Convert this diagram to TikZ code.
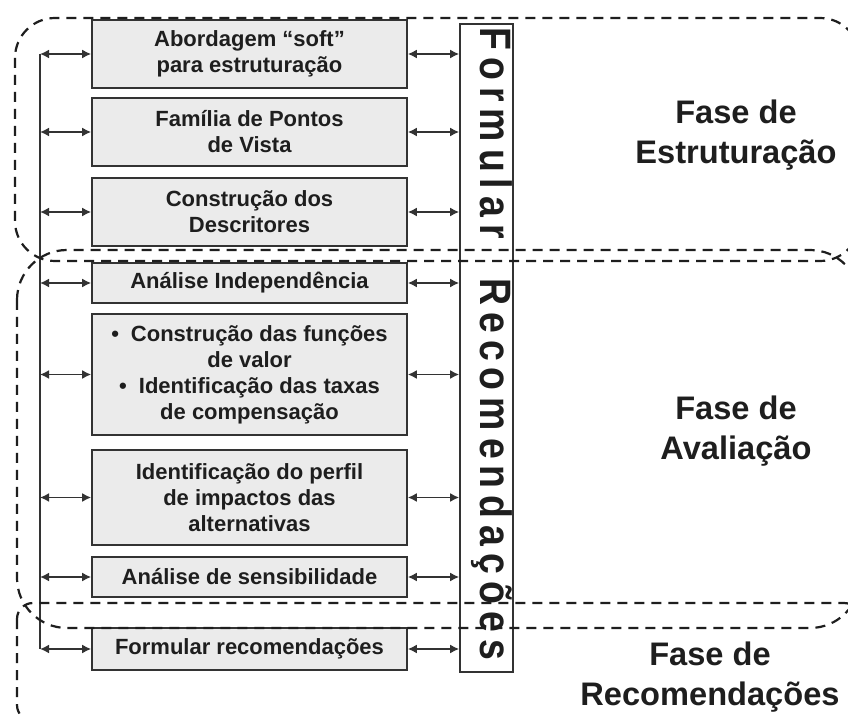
\documentclass[tikz,border=0pt]{standalone}
\usepackage{fontspec}
\setmainfont{Liberation Sans}
\newfontfamily\vfont[FakeStretch=0.85,LetterSpace=16]{Liberation Sans}
\usetikzlibrary{arrows.meta}
\definecolor{boxfill}{HTML}{EBEBEB}
\definecolor{ink}{HTML}{1E1E1E}
\definecolor{edge}{HTML}{333333}
\begin{document}
\begin{tikzpicture}[x=0.5pt,y=-0.5pt,
  stepbox/.style={draw=edge, line width=0.8pt, fill=boxfill, minimum width=157.5pt, inner sep=0pt, align=center, font=\fontsize{11}{13}\selectfont\bfseries, text=ink},
  conn/.style={draw=edge, line width=0.85pt, {Latex[length=4.5pt,width=4.5pt]}-{Latex[length=4.5pt,width=4.5pt]}},
  spine/.style={draw=edge, line width=0.85pt},
  phase/.style={draw=ink, line width=1.1pt, dash pattern=on 5pt off 3.5pt},
  phaselabel/.style={font=\fontsize{16.3}{20}\selectfont\bfseries, align=center, text=ink, inner sep=0pt}]
\useasboundingbox (0,0) rectangle (848,717);
\fill[white] (0,0) rectangle (848,717);

% step boxes
\node[stepbox, minimum height=34pt] (b1) at (249.5,54) {Abordagem “soft”\\para estruturação};
\node[stepbox, minimum height=34pt] (b2) at (249.5,132) {Família de Pontos\\de Vista};
\node[stepbox, minimum height=34pt] (b3) at (249.5,212) {Construção dos\\Descritores};
\node[stepbox, minimum height=20pt] (b4) at (249.5,283) {Análise Independência};
\node[stepbox, minimum height=60.5pt] (b5) at (249.5,374.5) {•\hspace{6pt}Construção das funções\\de valor\\•\hspace{6pt}Identificação das taxas\\de compensação};
\node[stepbox, minimum height=47.5pt] (b6) at (249.5,497.5) {Identificação do perfil\\de impactos das\\alternativas};
\node[stepbox, minimum height=20pt] (b7) at (249.5,577) {Análise de sensibilidade};
\node[stepbox, minimum height=21pt] (b8) at (249.5,649) {Formular recomendações};

% tall box
\node[draw=edge, line width=0.8pt, fill=white, minimum width=26.5pt, minimum height=324pt, inner sep=0pt] (rec) at (486.5,348) {};
\node[font=\vfont\bfseries\fontsize{22}{22}\selectfont, rotate=-90, anchor=base west, inner sep=0pt, text=ink] (rectext) at (480,27) {Formular\hspace{11pt} Recomendações};

% spine and connectors
\coordinate (sp) at (40,0);
\draw[spine] (b1.west -| sp) -- (b8.west -| sp);
\foreach \b in {b1,b2,b3,b4,b5,b6,b7,b8}{
  \draw[conn] (\b.west -| sp) -- (\b.west);
  \draw[conn] (\b.east) -- (\b.east -| rec.west);
}

% phase labels
\node[phaselabel] (l1) at (736,135) {Fase de\\Estruturação};
\node[phaselabel] (l2) at (736,431) {Fase de\\Avaliação};
\node[phaselabel] (l3) at (710,677) {Fase de\\Recomendações};

% phase outlines
\begin{scope}
\clip (0,0) rectangle (848,717);
\draw[phase, rounded corners=20pt] (15,18) rectangle (860,261);
\draw[phase, rounded corners=25pt] (17,250) rectangle (860,628);
\draw[phase, rounded corners=8pt] (17,603) rectangle (860,721);
\end{scope}
\end{tikzpicture}
\end{document}
